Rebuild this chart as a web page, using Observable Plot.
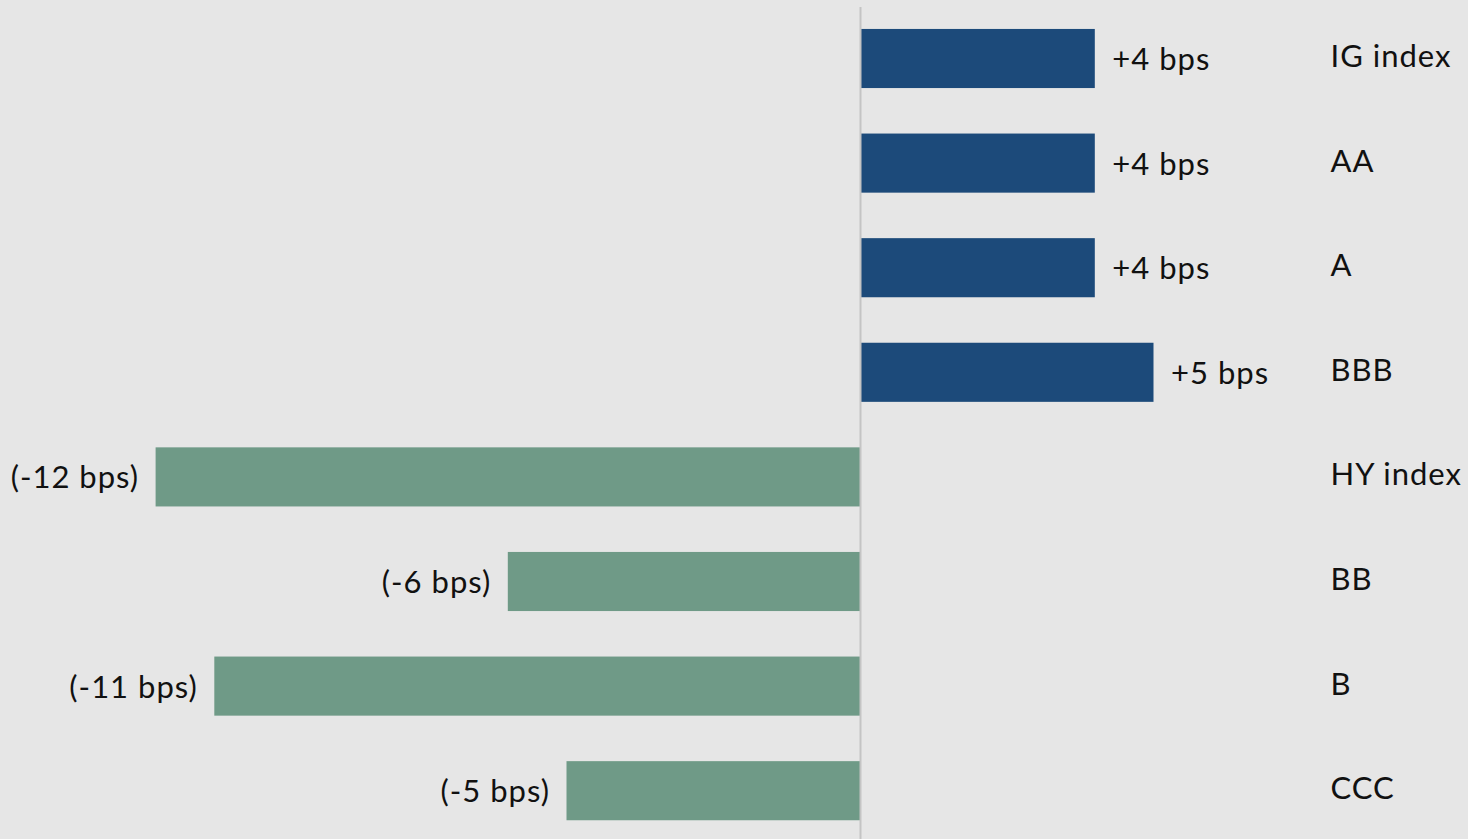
<!DOCTYPE html>
<html>
<head>
<meta charset="utf-8">
<script src="https://cdn.jsdelivr.net/npm/d3@7"></script>
<script src="https://cdn.jsdelivr.net/npm/@observablehq/plot@0.6"></script>
<style>
  html, body { margin: 0; padding: 0; background: #e6e6e6; }
  #chart svg { display: block; }
  #chart svg text { letter-spacing: 1px; }
</style>
</head>
<body>
<div id="chart"></div>
<script>
const categories = ["IG index", "AA", "A", "BBB", "HY index", "BB", "B", "CCC"];
const values = [4, 4, 4, 5, -12, -6, -11, -5];
const labels = ["+4 bps", "+4 bps", "+4 bps", "+5 bps", "(-12 bps)", "(-6 bps)", "(-11 bps)", "(-5 bps)"];
const groups = ["IG", "IG", "IG", "IG", "HY", "HY", "HY", "HY"];

const data = categories.map((c, i) => ({category: c, value: values[i], label: labels[i], group: groups[i]}));

const font = "Lato, 'Open Sans', sans-serif";

const chart = Plot.plot({
  width: 1468,
  height: 839,
  marginTop: 7,
  marginBottom: 0,
  marginLeft: 0,
  marginRight: 146,
  style: {background: "#e6e6e6", fontFamily: font, color: "#111"},
  x: {domain: [-860 / 58.7, (1322 - 860) / 58.7], axis: null},
  y: {domain: categories, range: [6.2, 843], paddingInner: 0.435, paddingOuter: 0.2175, round: false, label: null},
  color: {domain: ["IG", "HY"], range: ["#1c4a7a", "#6f9a87"]},
  marks: [
    Plot.barX(data, {x: "value", y: "category", fill: "group"}),
    Plot.ruleX([0], {stroke: "#c4c4c4", strokeWidth: 2}),
    Plot.text(data.filter(d => d.value > 0), {x: "value", y: "category", text: "label", textAnchor: "start", dx: 17, dy: 1, fontSize: 31, fill: "#111"}),
    Plot.text(data.filter(d => d.value < 0), {x: "value", y: "category", text: "label", textAnchor: "end", dx: -17, dy: 1, fontSize: 31, fill: "#111"}),
    Plot.axisY({anchor: "right", tickSize: 0, tickPadding: 8, fontSize: 31, label: null, fill: "#111", dy: -2})
  ]
});
document.getElementById("chart").appendChild(chart);
</script>
</body>
</html>
